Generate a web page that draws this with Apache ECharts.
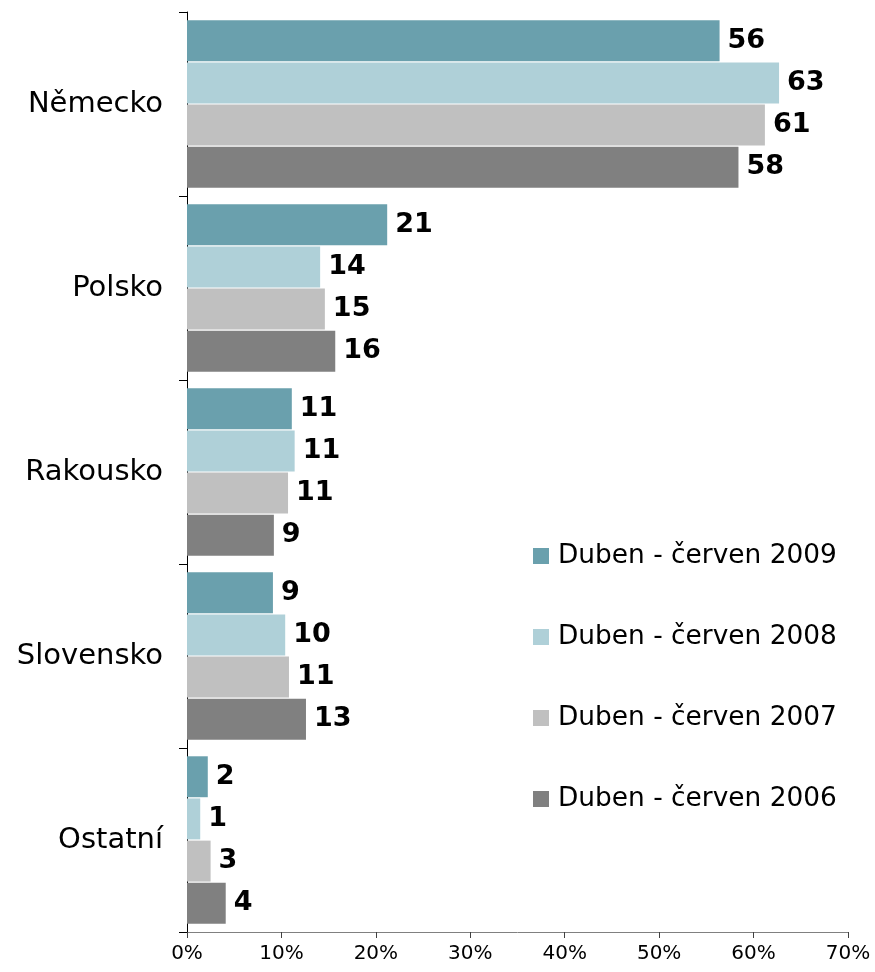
<!DOCTYPE html>
<html>
<head>
<meta charset="utf-8">
<script src="https://cdn.jsdelivr.net/npm/echarts@6/dist/echarts.min.js"></script>
<style>
	html, body { margin: 0; padding: 0; background: #fff; }
	#chart { width: 875px; height: 972px; }
</style>
</head>
<body>
<div id="chart"></div>
<script>
	// země
	var categories = ['Německo', 'Polsko', 'Rakousko', 'Slovensko', 'Ostatní'];
	var seriesNames = ['Duben - červen 2009', 'Duben - červen 2008', 'Duben - červen 2007', 'Duben - červen 2006'];
	// podíly v %
	var v2009 = [56.4, 21.2, 11.1, 9.1, 2.2];
	var v2008 = [62.7, 14.1, 11.4, 10.4, 1.4];
	var v2007 = [61.2, 14.6, 10.7, 10.8, 2.5];
	var v2006 = [58.4, 15.7, 9.2, 12.6, 4.1];
	var xTicks = [0, 10, 20, 30, 40, 50, 60, 70];

	var colors = ['#6aa0ad', '#afd0d8', '#c0c0c0', '#808080'];
	var font = 'DejaVu Sans, Verdana, sans-serif';

	function bar(i, data) {
		return {
			name: seriesNames[i],
			type: 'bar',
			data: data,
			itemStyle: { color: colors[i] },
			barCategoryGap: '9%',
			barGap: '3%',
			label: {
				show: true,
				position: 'right',
				distance: 8,
				color: '#000',
				fontWeight: 'bold',
				fontSize: 27,
				fontFamily: font,
				formatter: function (p) { return Math.round(p.value); }
			}
		};
	}

	var myChart = echarts.init(document.getElementById('chart'));
	myChart.setOption({
		animation: false,
		textStyle: { fontFamily: font },
		grid: { left: 187, right: 27, top: 12, bottom: 40 },
		legend: {
			orient: 'vertical',
			left: 528,
			top: 536,
			itemWidth: 16,
			itemHeight: 16,
			itemGap: 51,
			icon: 'rect',
			textStyle: { fontSize: 26.4, color: '#000', lineHeight: 30, padding: [0, 0, 0, 4], fontFamily: font },
			data: seriesNames
		},
		xAxis: {
			type: 'value',
			min: xTicks[0],
			max: xTicks[xTicks.length - 1],
			interval: 10,
			splitLine: { show: false },
			axisLine: { show: true, lineStyle: { color: '#808080', width: 1 } },
			axisTick: { show: true, length: 6, lineStyle: { color: '#404040' } },
			axisLabel: { formatter: '{value}%', fontSize: 20, color: '#000', margin: 12, fontFamily: font }
		},
		yAxis: {
			type: 'category',
			inverse: true,
			data: categories,
			axisLine: { show: true, lineStyle: { color: '#000', width: 1 } },
			axisTick: { show: true, length: 8, lineStyle: { color: '#000' } },
			axisLabel: { fontSize: 29, color: '#000', margin: 24, fontFamily: font }
		},
		series: [bar(0, v2009), bar(1, v2008), bar(2, v2007), bar(3, v2006)]
	});
</script>
</body>
</html>
